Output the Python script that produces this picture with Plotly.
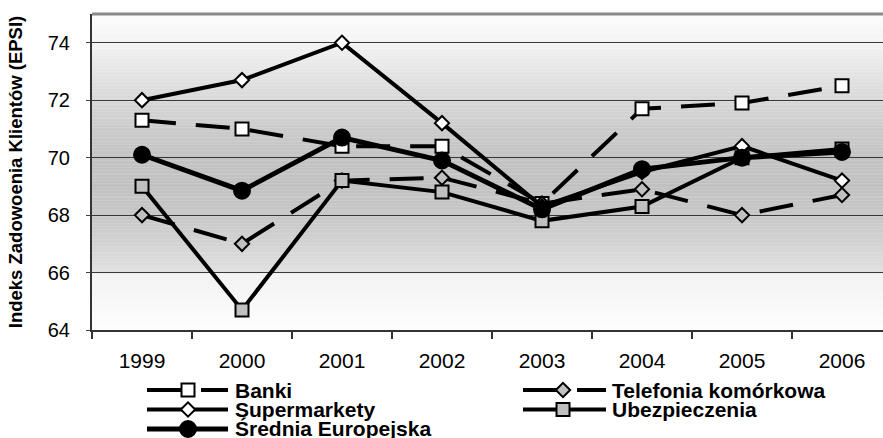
import plotly.graph_objects as go

# --- data -------------------------------------------------------------
years = ["1999", "2000", "2001", "2002", "2003", "2004", "2005", "2006"]
banki = [71.3, 71.0, 70.4, 70.4, 68.4, 71.7, 71.9, 72.5]
telefonia = [68.0, 67.0, 69.2, 69.3, 68.4, 68.9, 68.0, 68.7]
supermarkety = [72.0, 72.7, 74.0, 71.2, 68.3, 69.5, 70.4, 69.2]
ubezpieczenia = [69.0, 64.7, 69.2, 68.8, 67.8, 68.3, 70.0, 70.3]
srednia = [70.1, 68.85, 70.7, 69.9, 68.2, 69.6, 70.0, 70.2]
y_ticks = [64, 66, 68, 70, 72, 74]

# --- page geometry ----------------------------------------------------
W, H = 883, 438
M_L, M_T, M_B, M_R = 92, 14, 108, 0
PLOT_W = W - M_L - M_R
PLOT_H = H - M_T - M_B
FONT = "Liberation Sans, Arial, sans-serif"
DASH = "34px,20px"


def px_x(px):
    return (px - M_L) / PLOT_W


def px_y(py):
    return (H - M_B - py) / PLOT_H


series = [
    dict(name="Banki", y=banki, dash=DASH, symbol="square", fill="white", size=13, lw=4),
    dict(name="Telefonia komórkowa", y=telefonia, dash=DASH, symbol="diamond", fill="#c0c0c0", size=11, lw=4),
    dict(name="Supermarkety", y=supermarkety, dash="solid", symbol="diamond", fill="white", size=11, lw=4),
    dict(name="Ubezpieczenia", y=ubezpieczenia, dash="solid", symbol="square", fill="#c0c0c0", size=13, lw=4),
    dict(name="Średnia Europejska", y=srednia, dash="solid", symbol="circle", fill="black", size=16, lw=5),
]

fig = go.Figure()
for s in series:
    fig.add_trace(go.Scatter(
        x=years, y=s["y"], name=s["name"], mode="lines+markers",
        line=dict(color="black", width=s["lw"], dash=s["dash"]),
        marker=dict(symbol=s["symbol"], size=s["size"], color=s["fill"],
                    line=dict(color="black", width=2)),
        showlegend=False,
    ))

# --- plot-area gradient (grey band through the middle) ----------------
grey_stops = [(64.0, 253), (66.0, 242), (66.0, 224), (67.0, 210), (68.0, 199),
              (69.0, 193), (70.0, 195), (71.0, 203), (72.0, 215), (73.0, 229),
              (74.0, 243), (75.0, 253)]


def grey_at(v):
    for (a, ga), (b, gb) in zip(grey_stops, grey_stops[1:]):
        if a <= v <= b and b > a:
            return ga + (gb - ga) * (v - a) / (b - a)
    return grey_stops[-1][1]


shapes = []
step = 0.05
n_bands = int(round((75 - 64) / step))
for i in range(n_bands):
    y0 = 64 + i * step
    g = int(round(grey_at(y0 + step / 2)))
    shapes.append(dict(type="rect", xref="paper", yref="y", x0=0, x1=1,
                       y0=y0, y1=y0 + step + 0.01, layer="below",
                       line=dict(width=0), fillcolor=f"rgb({g},{g},{g})"))

# top frame line
shapes.append(dict(type="line", xref="paper", yref="paper", x0=0, x1=1, y0=1, y1=1,
                   line=dict(color="#8a8a8a", width=3)))

# --- legend drawn below the axis, two columns --------------------------
col_line = [(147, 228), (523, 606)]
col_marker = [188, 563]
col_text = [233, 610]
row_y = [390, 409.5, 429]

annotations = []
for i, s in enumerate(series):
    c, r = i % 2, i // 2
    cy = row_y[r]
    x0, x1 = col_line[c]
    shapes.append(dict(type="line", xref="paper", yref="paper",
                       x0=px_x(x0), x1=px_x(x1), y0=px_y(cy), y1=px_y(cy),
                       line=dict(color="black", width=s["lw"], dash=s["dash"])))
    mx = col_marker[c]
    mk = dict(xref="paper", yref="paper", fillcolor=s["fill"],
              line=dict(color="black", width=2))
    if s["symbol"] == "square":
        h = s["size"] / 2
        shapes.append(dict(type="rect", x0=px_x(mx - h), x1=px_x(mx + h),
                           y0=px_y(cy + h), y1=px_y(cy - h), **mk))
    elif s["symbol"] == "circle":
        h = s["size"] / 2
        shapes.append(dict(type="circle", x0=px_x(mx - h), x1=px_x(mx + h),
                           y0=px_y(cy + h), y1=px_y(cy - h), **mk))
    else:
        h = s["size"] * 0.65
        path = (f"M {px_x(mx - h)} {px_y(cy)} L {px_x(mx)} {px_y(cy - h)} "
                f"L {px_x(mx + h)} {px_y(cy)} L {px_x(mx)} {px_y(cy + h)} Z")
        shapes.append(dict(type="path", path=path, **mk))
    annotations.append(dict(xref="paper", yref="paper", x=px_x(col_text[c]), y=px_y(cy),
                            xanchor="left", yanchor="middle", showarrow=False,
                            text=s["name"],
                            font=dict(family=FONT, size=21, color="black", weight="bold")))

fig.update_layout(
    width=W, height=H,
    margin=dict(l=M_L, r=M_R, t=M_T, b=M_B, pad=0),
    paper_bgcolor="white", plot_bgcolor="white",
    font=dict(family=FONT, color="black"),
    shapes=shapes, annotations=annotations,
    showlegend=False,
)
fig.update_xaxes(
    type="category", range=[-0.5, 7.41],
    showgrid=False, showline=True, linecolor="#333333", linewidth=2,
    ticks="outside", tickson="boundaries", ticklen=7, tickwidth=1.5, tickcolor="#333333",
    tickfont=dict(family=FONT, size=21, color="black"), ticklabelstandoff=11,
    fixedrange=True,
)
fig.update_yaxes(
    range=[64, 75], tickvals=y_ticks,
    showgrid=True, gridcolor="#383838", gridwidth=1, zeroline=False,
    showline=True, linecolor="#333333", linewidth=2,
    ticks="outside", ticklen=4, tickwidth=1, tickcolor="#404040",
    tickfont=dict(family=FONT, size=20, color="black"), ticklabelstandoff=12,
    title=dict(text="Indeks Zadowoenia Klientów (EPSI)", standoff=20,
               font=dict(family=FONT, size=18.5, color="black", weight="bold")),
    fixedrange=True,
)

fig.write_html("out.html")
